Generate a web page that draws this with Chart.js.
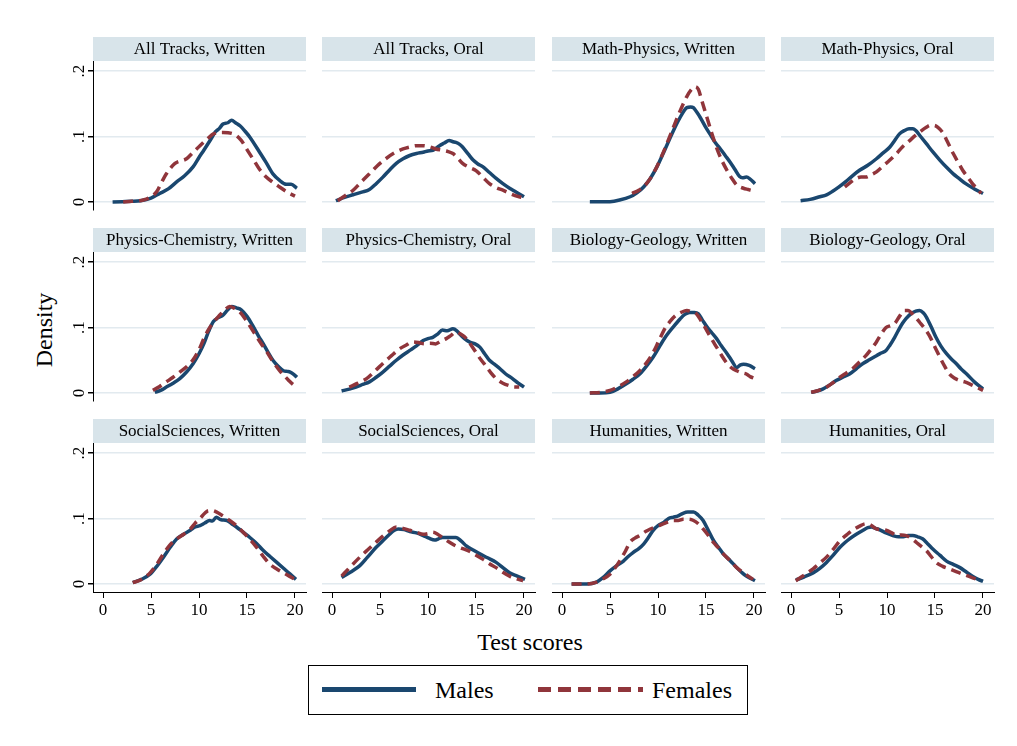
<!DOCTYPE html>
<html>
<head>
<meta charset="utf-8">
<script src="https://cdn.jsdelivr.net/npm/chart.js@4/dist/chart.umd.min.js"></script>
<style>
  body { margin: 0; background: #fff; width: 1017px; height: 746px; overflow: hidden; position: relative; font-family: "Liberation Serif", serif; }
  canvas.panel { position: absolute; }
  #ylab { position: absolute; left: 44px; top: 330px; transform: translate(-50%, -50%) rotate(-90deg); font-size: 24px; white-space: nowrap; }
  #xlab { position: absolute; left: 530px; top: 642px; transform: translate(-50%, -50%); font-size: 24px; white-space: nowrap; }
  #legend { position: absolute; left: 308px; top: 665px; width: 438px; height: 48px; border: 1px solid #000; }
  .key { position: absolute; top: 21px; height: 5px; }
  .lab { position: absolute; top: 0; line-height: 48px; font-size: 24px; white-space: nowrap; }
</style>
</head>
<body>
<div id="ylab">Density</div>
<div id="xlab">Test scores</div>
<div id="legend"></div>
<script>
// ticks, names, titles
const xTicks = [0, 5, 10, 15, 20];
const yTicks = [0, 0.1, 0.2];
const yTickLabels = ['0', '.1', '.2'];
const seriesNames = ['Males', 'Females'];
const panelTitles = [
  'All Tracks, Written', 'All Tracks, Oral', 'Math-Physics, Written', 'Math-Physics, Oral',
  'Physics-Chemistry, Written', 'Physics-Chemistry, Oral', 'Biology-Geology, Written', 'Biology-Geology, Oral',
  'SocialSciences, Written', 'SocialSciences, Oral', 'Humanities, Written', 'Humanities, Oral'
];

// density curves: [score, density]
const allWrittenM = [[1,0.000],[2,0.0005],[3,0.001],[3.9,0.002],[5,0.006],[5.9,0.013],[6.8,0.02],[7.7,0.031],[8.5,0.04],[9.4,0.054],[10,0.068],[10.5,0.079],[11.2,0.095],[11.7,0.107],[12.1,0.112],[12.5,0.119],[13,0.121],[13.4,0.125],[13.8,0.121],[14.3,0.116],[14.8,0.108],[15.3,0.099],[16.4,0.074],[17,0.06],[17.7,0.043],[18.4,0.033],[19.1,0.027],[19.6,0.027],[20.2,0.021]];
const allWrittenF = [[2.1,0],[3,0.001],[4.2,0.003],[5,0.008],[5.6,0.016],[6.1,0.03],[6.6,0.043],[7.5,0.059],[8.7,0.066],[9.4,0.076],[10.1,0.086],[11,0.098],[11.5,0.104],[12.5,0.106],[13.6,0.104],[14.4,0.094],[15,0.08],[15.7,0.064],[16.3,0.05],[17,0.038],[17.7,0.03],[18.4,0.023],[19.2,0.015],[20,0.009]];
const allOralM = [[0.4,0.002],[1.3,0.007],[2.2,0.011],[3.1,0.015],[3.9,0.019],[4.6,0.028],[5.3,0.038],[6,0.049],[6.7,0.059],[7.4,0.066],[8.1,0.071],[8.8,0.074],[9.5,0.076],[10,0.078],[10.5,0.079],[11.2,0.086],[11.7,0.09],[12.2,0.094],[12.6,0.092],[12.9,0.091],[13.3,0.088],[13.6,0.084],[14.2,0.073],[14.7,0.064],[15.2,0.058],[15.7,0.054],[16.4,0.045],[17.1,0.036],[17.8,0.028],[18.5,0.021],[19.2,0.015],[20,0.008]];
const allOralF = [[0.6,0.002],[1.4,0.01],[2.2,0.018],[3,0.03],[3.9,0.043],[4.7,0.055],[5.6,0.066],[6.5,0.075],[7.4,0.081],[8.1,0.084],[8.8,0.086],[9.5,0.086],[10.2,0.084],[10.8,0.081],[11.5,0.079],[12.1,0.077],[12.6,0.074],[13.1,0.067],[13.6,0.059],[14.3,0.053],[15,0.048],[15.7,0.038],[16.4,0.028],[17.1,0.022],[17.8,0.018],[18.7,0.012],[19.5,0.008],[20,0.006]];
const mathWrittenM = [[2.9,0.0005],[4,0.0003],[5,0.0005],[6,0.003],[7.1,0.008],[7.8,0.014],[8.5,0.023],[9.2,0.036],[9.9,0.054],[10.6,0.076],[11.3,0.099],[11.8,0.115],[12.3,0.129],[12.7,0.139],[13,0.144],[13.4,0.145],[13.7,0.144],[14,0.138],[14.4,0.129],[14.9,0.116],[15.4,0.104],[16,0.09],[16.5,0.081],[17,0.071],[17.5,0.061],[18,0.05],[18.5,0.039],[18.8,0.037],[19.2,0.038],[19.6,0.035],[20.1,0.028]];
const mathWrittenF = [[7.3,0.013],[8,0.018],[8.8,0.028],[9.5,0.043],[10.2,0.064],[10.9,0.088],[11.6,0.114],[12.1,0.132],[12.6,0.149],[13,0.161],[13.5,0.172],[13.85,0.176],[14.2,0.172],[14.6,0.153],[15.1,0.129],[15.6,0.105],[16.1,0.083],[16.6,0.065],[17.2,0.048],[17.7,0.036],[18.2,0.026],[18.9,0.021],[19.4,0.019],[19.9,0.017]];
const mathOralM = [[1,0.002],[2,0.004],[3,0.008],[3.7,0.011],[4.3,0.016],[5,0.023],[5.7,0.031],[6.4,0.04],[7.1,0.048],[8,0.056],[8.9,0.066],[9.6,0.075],[10.3,0.084],[10.8,0.094],[11.3,0.104],[11.8,0.109],[12.3,0.112],[12.7,0.112],[13,0.109],[13.5,0.1],[14.1,0.089],[14.8,0.076],[15.5,0.064],[16.2,0.053],[16.9,0.043],[17.5,0.036],[18.2,0.028],[19.1,0.02],[20,0.013]];
const mathOralF = [[5.6,0.023],[6.2,0.03],[6.8,0.036],[7.3,0.038],[7.8,0.038],[8.4,0.042],[8.9,0.046],[9.6,0.055],[10.3,0.064],[11,0.074],[11.6,0.084],[12.3,0.093],[13,0.102],[13.6,0.109],[14.1,0.114],[14.5,0.117],[14.9,0.117],[15.3,0.114],[15.8,0.106],[16.3,0.092],[16.9,0.074],[17.4,0.061],[17.9,0.048],[18.4,0.038],[18.9,0.028],[19.4,0.02],[19.8,0.013]];
const physWrittenM = [[5.4,0.001],[6,0.004],[6.6,0.009],[7.3,0.015],[8,0.022],[8.7,0.032],[9.4,0.045],[10,0.06],[10.5,0.075],[11,0.094],[11.5,0.109],[12,0.115],[12.5,0.119],[13,0.127],[13.4,0.132],[13.9,0.13],[14.4,0.127],[15,0.117],[15.7,0.1],[16.2,0.087],[16.7,0.075],[17.2,0.062],[17.7,0.05],[18.3,0.04],[18.8,0.034],[19.2,0.033],[19.5,0.032],[19.9,0.028],[20.2,0.024]];
const physWrittenF = [[5.2,0.004],[5.9,0.01],[6.6,0.017],[7.3,0.024],[8,0.032],[8.7,0.04],[9.4,0.051],[10,0.066],[10.5,0.083],[11,0.097],[11.5,0.108],[12.1,0.118],[12.7,0.127],[13.2,0.132],[13.7,0.129],[14.3,0.123],[15,0.109],[15.7,0.093],[16.4,0.077],[17.1,0.062],[17.7,0.048],[18.4,0.034],[18.9,0.026],[19.3,0.02],[19.8,0.013],[20.2,0.009]];
const physOralM = [[1,0.003],[1.8,0.006],[2.5,0.009],[3.2,0.013],[3.9,0.017],[4.6,0.024],[5.3,0.032],[6,0.041],[6.7,0.05],[7.4,0.058],[8.1,0.065],[8.8,0.072],[9.5,0.08],[10,0.083],[10.5,0.085],[11,0.09],[11.5,0.096],[12,0.095],[12.6,0.098],[13,0.095],[13.3,0.09],[13.8,0.083],[14.3,0.078],[14.9,0.075],[15.4,0.07],[15.9,0.06],[16.4,0.05],[17,0.043],[17.5,0.037],[18.1,0.029],[18.8,0.022],[19.4,0.015],[20,0.009]];
const physOralF = [[1.8,0.009],[2.7,0.015],[3.6,0.022],[4.5,0.034],[5.3,0.045],[6.2,0.057],[7,0.067],[7.7,0.073],[8.4,0.078],[9,0.077],[9.6,0.075],[10.2,0.076],[10.8,0.075],[11.3,0.079],[11.9,0.083],[12.4,0.088],[12.9,0.093],[13.4,0.09],[14,0.083],[14.5,0.073],[15,0.062],[15.5,0.051],[16.1,0.04],[16.6,0.03],[17.1,0.022],[17.8,0.015],[18.5,0.011],[19,0.009],[19.5,0.009]];
const bioWrittenM = [[2.9,0],[4,0],[5,0.001],[5.9,0.007],[6.7,0.014],[7.4,0.021],[8.1,0.029],[8.8,0.041],[9.5,0.055],[10.2,0.072],[10.9,0.088],[11.6,0.101],[12.3,0.113],[12.8,0.12],[13.3,0.123],[13.8,0.123],[14.2,0.121],[14.6,0.112],[15.1,0.101],[15.6,0.092],[16.1,0.083],[16.6,0.072],[17.2,0.06],[17.7,0.049],[18.2,0.039],[18.6,0.043],[18.9,0.044],[19.5,0.042],[20.1,0.037]];
const bioWrittenF = [[2.9,0],[4,0.001],[5,0.004],[5.9,0.01],[6.7,0.017],[7.4,0.025],[8.1,0.034],[8.8,0.046],[9.5,0.062],[10.1,0.08],[10.7,0.098],[11.3,0.11],[11.8,0.118],[12.4,0.123],[13,0.126],[13.5,0.124],[14,0.121],[14.5,0.11],[15.1,0.095],[15.6,0.082],[16.1,0.07],[16.6,0.058],[17.2,0.045],[17.7,0.038],[18.2,0.034],[18.7,0.031],[19.2,0.029],[19.6,0.025],[20.1,0.022]];
const bioOralM = [[2.1,0.001],[2.7,0.003],[3.3,0.006],[4,0.012],[4.7,0.019],[5.4,0.024],[6.1,0.029],[6.8,0.037],[7.5,0.045],[8.2,0.051],[8.9,0.057],[9.4,0.061],[9.9,0.065],[10.3,0.073],[10.8,0.085],[11.2,0.096],[11.6,0.106],[12,0.114],[12.5,0.121],[13,0.125],[13.4,0.126],[13.8,0.122],[14.1,0.116],[14.6,0.101],[15.1,0.085],[15.6,0.072],[16.2,0.06],[16.7,0.052],[17.2,0.045],[17.7,0.037],[18.3,0.029],[19.1,0.017],[20,0.006]];
const bioOralF = [[2.1,0.001],[2.9,0.004],[3.7,0.009],[4.4,0.016],[5.1,0.024],[5.8,0.031],[6.4,0.037],[7.1,0.047],[7.8,0.057],[8.4,0.068],[8.9,0.078],[9.4,0.09],[9.9,0.1],[10.4,0.103],[10.8,0.106],[11.3,0.117],[11.8,0.126],[12.2,0.126],[12.5,0.123],[13,0.115],[13.4,0.108],[13.9,0.099],[14.4,0.088],[15,0.07],[15.5,0.055],[16,0.041],[16.5,0.029],[17,0.023],[17.6,0.019],[18.1,0.017],[18.6,0.014],[19.3,0.009],[20,0.004]];
const socWrittenM = [[3.1,0.002],[4,0.007],[4.9,0.015],[5.6,0.027],[6.3,0.041],[7,0.056],[7.7,0.069],[8.4,0.076],[9.1,0.082],[9.6,0.087],[10.1,0.089],[10.6,0.093],[11.1,0.097],[11.4,0.096],[11.8,0.102],[12.3,0.098],[12.9,0.097],[13.4,0.092],[13.9,0.087],[14.6,0.079],[15.3,0.071],[16,0.062],[16.7,0.051],[17.4,0.042],[18.1,0.033],[18.8,0.024],[19.5,0.015],[20.1,0.007]];
const socWrittenF = [[3.1,0.002],[4,0.007],[4.9,0.017],[5.6,0.03],[6.3,0.046],[7,0.06],[7.7,0.069],[8.4,0.076],[9.1,0.084],[9.6,0.093],[10.1,0.1],[10.6,0.108],[11,0.112],[11.4,0.112],[11.8,0.11],[12.5,0.104],[13.2,0.097],[13.9,0.089],[14.6,0.079],[15.3,0.068],[16,0.056],[16.7,0.042],[17.4,0.03],[18.1,0.023],[18.8,0.017],[19.4,0.012],[20,0.007]];
const socOralM = [[1,0.01],[1.9,0.018],[2.9,0.028],[3.7,0.041],[4.6,0.056],[5.3,0.066],[6,0.076],[6.5,0.082],[6.9,0.084],[7.5,0.083],[8.1,0.08],[8.8,0.078],[9.5,0.074],[10.1,0.07],[10.7,0.067],[11.1,0.069],[11.5,0.071],[12.2,0.071],[12.9,0.071],[13.5,0.065],[14,0.058],[14.7,0.052],[15.4,0.046],[16.2,0.04],[17.1,0.033],[17.8,0.025],[18.5,0.017],[19.3,0.012],[20.1,0.007]];
const socOralF = [[1,0.012],[1.9,0.026],[2.9,0.041],[3.7,0.052],[4.6,0.064],[5.3,0.073],[6,0.081],[6.7,0.087],[7.4,0.085],[8.1,0.082],[8.8,0.079],[9.5,0.076],[10,0.077],[10.5,0.079],[11,0.076],[11.5,0.071],[12.2,0.064],[12.9,0.058],[13.6,0.054],[14.3,0.05],[15,0.044],[15.7,0.038],[16.4,0.031],[17.1,0.025],[17.8,0.018],[18.5,0.012],[19.2,0.008],[19.9,0.005]];
const humWrittenM = [[1,0],[2.6,0],[3.6,0.003],[4.3,0.01],[5,0.02],[5.7,0.028],[6.4,0.035],[6.9,0.042],[7.4,0.048],[8,0.054],[8.5,0.061],[9,0.071],[9.5,0.082],[10,0.089],[10.6,0.094],[11.1,0.1],[11.6,0.102],[12.1,0.104],[12.6,0.108],[13.1,0.11],[13.7,0.11],[14.2,0.105],[14.7,0.097],[15.2,0.083],[15.8,0.066],[16.3,0.056],[16.8,0.046],[17.5,0.036],[18.2,0.025],[18.7,0.018],[19.2,0.012],[20.1,0.005]];
const humWrittenF = [[1,0],[2.6,0],[3.6,0.003],[4.3,0.008],[5,0.015],[5.5,0.024],[6,0.035],[6.6,0.05],[7.1,0.064],[7.6,0.07],[8.1,0.074],[8.7,0.08],[9.2,0.084],[9.9,0.088],[10.6,0.092],[11.1,0.095],[11.6,0.097],[12.1,0.097],[12.6,0.099],[13.2,0.099],[13.7,0.097],[14.2,0.092],[14.7,0.084],[15.3,0.073],[15.8,0.063],[16.3,0.055],[16.8,0.046],[17.5,0.036],[18.2,0.025],[18.9,0.017],[19.4,0.012],[19.9,0.007]];
const humOralM = [[0.5,0.006],[1.4,0.011],[2.3,0.017],[3,0.024],[3.7,0.033],[4.4,0.044],[5.1,0.056],[5.6,0.063],[6.1,0.069],[6.8,0.076],[7.5,0.082],[8,0.086],[8.4,0.087],[8.8,0.085],[9.2,0.083],[9.9,0.078],[10.6,0.074],[11.2,0.072],[11.7,0.072],[12.2,0.074],[12.7,0.074],[13.2,0.072],[13.7,0.069],[14.2,0.062],[14.8,0.053],[15.5,0.044],[16.2,0.035],[16.9,0.03],[17.6,0.025],[18.2,0.019],[18.9,0.012],[19.5,0.007],[20,0.004]];
const humOralF = [[0.5,0.005],[1.4,0.014],[2.3,0.023],[3,0.032],[3.7,0.041],[4.4,0.053],[5.1,0.066],[5.8,0.075],[6.4,0.082],[7.1,0.088],[7.8,0.092],[8.3,0.09],[8.9,0.084],[9.4,0.083],[9.9,0.082],[10.5,0.078],[11,0.074],[11.5,0.075],[12,0.074],[12.6,0.069],[13.1,0.063],[13.6,0.057],[14.1,0.051],[14.6,0.042],[15.1,0.033],[15.8,0.027],[16.5,0.023],[17.2,0.019],[17.9,0.015],[18.8,0.01],[19.8,0.005]];

const malesByPanel = [allWrittenM, allOralM, mathWrittenM, mathOralM, physWrittenM, physOralM, bioWrittenM, bioOralM, socWrittenM, socOralM, humWrittenM, humOralM];
const femalesByPanel = [allWrittenF, allOralF, mathWrittenF, mathOralF, physWrittenF, physOralF, bioWrittenF, bioOralF, socWrittenF, socOralF, humWrittenF, humOralF];

// layout of the 3x4 grid
const colLeft = [93, 322, 552, 781];
const rowTop = [37, 228, 419];
const AXIS_W = 50, STRIP_H = 24, PLOT_W = 213, PLOT_H = 149, XAXIS_H = 32;
const xMin = -10 / 9.6, xMax = (PLOT_W - 10) / 9.6;
const yMin = -8 / 655, yMax = 141 / 655;

const navy = '#1a476f';
const maroon = '#90353b';
const serif = '"Liberation Serif", "Times New Roman", serif';
Chart.defaults.font.family = serif;

// legend (html)
const legend = document.getElementById('legend');
const keyPos = [{ left: 13, w: 94, text: 126 }, { left: 229, w: 105, text: 343 }];
seriesNames.forEach((name, i) => {
  const k = document.createElement('div');
  k.className = 'key';
  k.style.left = keyPos[i].left + 'px';
  k.style.width = keyPos[i].w + 'px';
  k.style.background = i === 0 ? navy : `repeating-linear-gradient(to right, ${maroon} 0 13px, transparent 13px 20px)`;
  legend.appendChild(k);
  const t = document.createElement('div');
  t.className = 'lab';
  t.style.left = keyPos[i].text + 'px';
  t.textContent = name;
  legend.appendChild(t);
});

// strip titles + rotated y tick labels
const panelDecor = {
  id: 'panelDecor',
  beforeDraw(chart, args, opts) {
    const { ctx, chartArea } = chart;
    ctx.save();
    ctx.fillStyle = 'rgb(216,228,234)';
    ctx.fillRect(chartArea.left, 0, chartArea.width, STRIP_H);
    ctx.fillStyle = '#000';
    ctx.font = '17px ' + serif;
    ctx.textAlign = 'center';
    ctx.textBaseline = 'middle';
    ctx.fillText(opts.title, chartArea.left + chartArea.width / 2, STRIP_H / 2 + 1);
    ctx.restore();
  },
  afterDraw(chart, args, opts) {
    if (!opts.yLabels) return;
    const { ctx, chartArea } = chart;
    const ys = chart.scales.y;
    ctx.save();
    ctx.fillStyle = '#000';
    ctx.font = '17px ' + serif;
    ctx.textAlign = 'center';
    ctx.textBaseline = 'middle';
    yTicks.forEach((v, i) => {
      ctx.save();
      ctx.translate(chartArea.left - 13, ys.getPixelForValue(v));
      ctx.rotate(-Math.PI / 2);
      ctx.fillText(yTickLabels[i], 0, 0);
      ctx.restore();
    });
    ctx.restore();
  }
};

panelTitles.forEach((title, p) => {
  const r = Math.floor(p / 4), c = p % 4;
  const leftCol = c === 0, bottomRow = r === 2;
  const cv = document.createElement('canvas');
  cv.className = 'panel';
  cv.width = AXIS_W + PLOT_W + 4;
  cv.height = STRIP_H + PLOT_H + XAXIS_H;
  cv.style.left = (colLeft[c] - AXIS_W) + 'px';
  cv.style.top = rowTop[r] + 'px';
  document.body.appendChild(cv);

  new Chart(cv.getContext('2d'), {
    type: 'line',
    data: {
      datasets: [
        { label: seriesNames[0], data: malesByPanel[p].map(d => ({ x: d[0], y: d[1] })),
          borderColor: navy, borderWidth: 3.5, pointRadius: 0, fill: false,
          cubicInterpolationMode: 'monotone', order: 1 },
        { label: seriesNames[1], data: femalesByPanel[p].map(d => ({ x: d[0], y: d[1] })),
          borderColor: maroon, borderWidth: 3.5, borderDash: [10, 6], pointRadius: 0, fill: false,
          cubicInterpolationMode: 'monotone', order: 0 }
      ]
    },
    options: {
      responsive: false,
      animation: false,
      devicePixelRatio: 1,
      layout: { padding: { top: STRIP_H, right: 4, left: 0, bottom: 0 } },
      plugins: {
        legend: { display: false },
        tooltip: { enabled: false },
        panelDecor: { title: title, yLabels: leftCol }
      },
      scales: {
        x: {
          type: 'linear',
          min: xMin, max: xMax,
          afterBuildTicks: s => { s.ticks = xTicks.map(v => ({ value: v })); },
          afterFit: s => { s.height = XAXIS_H; },
          grid: { display: bottomRow, drawOnChartArea: false, drawTicks: true, tickLength: 6, tickColor: '#000', color: '#000' },
          border: { display: bottomRow, color: '#000', width: 1 },
          ticks: { display: bottomRow, autoSkip: false, maxRotation: 0, padding: 2, color: '#000', font: { size: 17 } }
        },
        y: {
          type: 'linear',
          min: yMin, max: yMax,
          afterBuildTicks: s => { s.ticks = yTicks.map(v => ({ value: v })); },
          afterFit: s => { s.width = AXIS_W; },
          grid: { color: 'rgb(226,234,239)', lineWidth: 1.5, drawTicks: leftCol, tickLength: 5, tickColor: '#000' },
          border: { display: leftCol, color: '#000', width: 1 },
          ticks: { display: false }
        }
      }
    },
    plugins: [panelDecor]
  });
});
</script>
</body>
</html>
